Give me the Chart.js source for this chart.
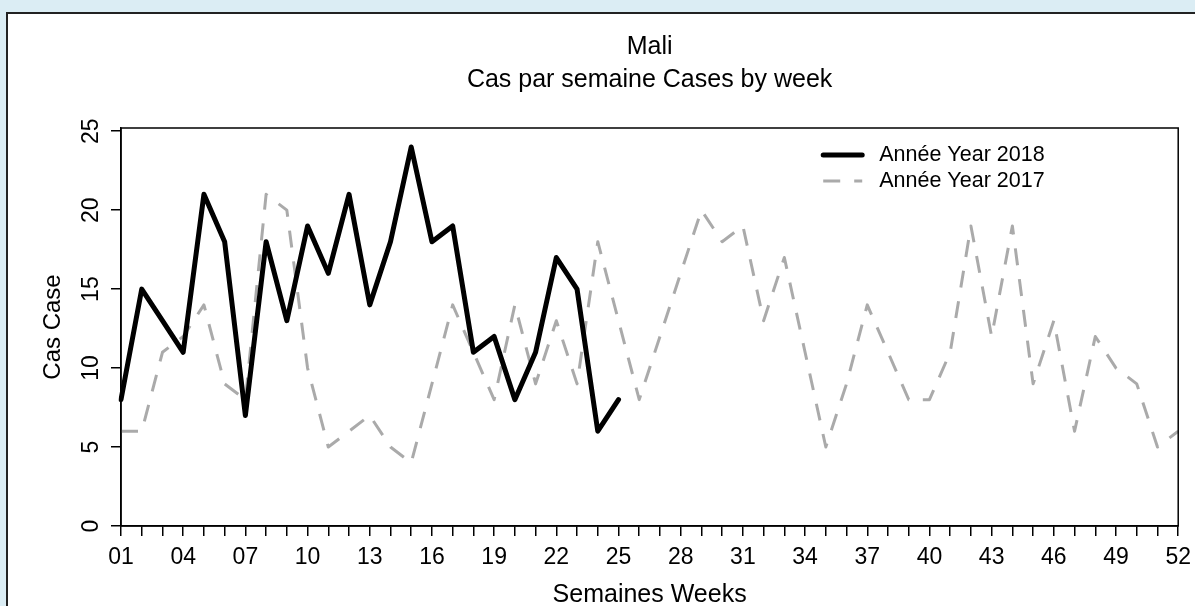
<!DOCTYPE html>
<html>
<head>
<meta charset="utf-8">
<title>Mali - Cas par semaine</title>
<script src="https://cdn.jsdelivr.net/npm/chart.js@4.4.0/dist/chart.umd.min.js"></script>
<style>
  html, body { margin: 0; padding: 0; background: #dbedf4; overflow: hidden; }
  #panel { position: absolute; left: 6px; top: 12px; width: 1200px; height: 610px; background: #fff; border-left: 2px solid #222; border-top: 2px solid #222; }
  #wrap { position: absolute; left: 0; top: 0; width: 1191px; height: 600px; }
</style>
</head>
<body>
<div id="panel"><div id="wrap"><canvas id="lineChart"></canvas></div></div>
<script>
/* weeks of the year, all of them get a tick mark */
const weeks = ['01', '02', '03', '04', '05', '06', '07', '08', '09', '10',
  '11', '12', '13', '14', '15', '16', '17', '18', '19', '20',
  '21', '22', '23', '24', '25', '26', '27', '28', '29', '30',
  '31', '32', '33', '34', '35', '36', '37', '38', '39', '40',
  '41', '42', '43', '44', '45', '46', '47', '48', '49', '50',
  '51', '52'];
// only every third week gets a label
const shownWeeks = ['01', '04', '07', '10', '13', '16', '19', '22', '25',
  '28', '31', '34', '37', '40', '43', '46', '49', '52'];

const cases2018 = [8, 15, 13, 11, 21, 18, 7, 18, 13, 19, 16, 21, 14, 18, 24,
  18, 19, 11, 12, 8, 11, 17, 15, 6, 8];
const cases2017 = [6, 6, 11, 12, 14, 9, 8, 21, 20, 10, 5, 6, 7, 5, 4,
  9, 14, 11, 8, 14, 9, 13, 9, 18, 13, 8, 12, 16, 20, 18,
  19, 13, 17, 11, 5, 9, 14, 11, 8, 8, 11, 19, 12, 19, 9,
  13, 6, 12, 10, 9, 5, 6];

const yTicks = [0, 5, 10, 15, 20, 25];
const titleLines = ['Mali', 'Cas par semaine Cases by week'];
const seriesLabels = ['Année Year 2018', 'Année Year 2017'];

const FONT = "'Liberation Sans', Arial, Helvetica, sans-serif";
Chart.defaults.color = '#000';
Chart.defaults.font.family = FONT;

// box round the plot region
const plotBox = {
  id: 'plotBox',
  afterDraw(chart) {
    const { ctx, chartArea: a } = chart;
    ctx.save();
    ctx.strokeStyle = '#000';
    ctx.lineWidth = 1.5;
    ctx.strokeRect(a.left, a.top, a.right - a.left, a.bottom - a.top);
    ctx.restore();
  }
};

// legend with line samples, inside the plot at top right
const lineLegend = {
  id: 'lineLegend',
  afterDraw(chart) {
    const { ctx, chartArea: a } = chart;
    const x0 = a.right - 355;
    ctx.save();
    chart.data.datasets.forEach((ds, i) => {
      const y = a.top + 27 + i * 26;
      ctx.beginPath();
      ctx.setLineDash(ds.borderDash || []);
      ctx.lineCap = ds.borderCapStyle || 'butt';
      ctx.strokeStyle = ds.borderColor;
      ctx.lineWidth = ds.borderWidth;
      ctx.moveTo(x0, y);
      ctx.lineTo(x0 + 39, y);
      ctx.stroke();
      ctx.setLineDash([]);
      ctx.fillStyle = '#000';
      ctx.font = '21.5px ' + FONT;
      ctx.textAlign = 'left';
      ctx.textBaseline = 'middle';
      ctx.fillText(ds.label, x0 + 56, y);
    });
    ctx.restore();
  }
};

let ctxLineChart = document.getElementById('lineChart').getContext('2d');
let lineChart = new Chart(ctxLineChart, {
  type: 'line',
  data: {
    labels: weeks,
    datasets: [
      {
        label: seriesLabels[0],
        data: cases2018,
        borderColor: '#000',
        borderWidth: 5,
        borderJoinStyle: 'round',
        borderCapStyle: 'round',
        pointRadius: 0,
        fill: false,
        tension: 0
      },
      {
        label: seriesLabels[1],
        data: cases2017,
        borderColor: '#aaaaaa',
        borderWidth: 3,
        borderDash: [17, 14],
        borderJoinStyle: 'round',
        borderCapStyle: 'butt',
        pointRadius: 0,
        fill: false,
        tension: 0
      }
    ]
  },
  options: {
    responsive: true,
    maintainAspectRatio: false,
    animation: false,
    layout: { padding: 0 },
    plugins: {
      legend: { display: false },
      tooltip: { enabled: false },
      title: {
        display: true,
        fullSize: false, // centre over the plot region, not the whole canvas
        text: titleLines,
        color: '#000',
        font: { size: 25, weight: 'normal', lineHeight: 1.32 },
        padding: { top: 17, bottom: 31 }
      }
    },
    scales: {
      x: {
        type: 'category',
        offset: false,
        afterFit(scale) { scale.height = 88; },
        grid: { display: true, drawOnChartArea: false, drawTicks: true, tickLength: 10, color: '#000', lineWidth: 1.5 },
        border: { display: true, color: '#000', width: 1.5 },
        ticks: {
          autoSkip: false,
          maxRotation: 0,
          minRotation: 0,
          padding: 8,
          font: { size: 23 },
          callback(value, index) {
            const w = weeks[index];
            return shownWeeks.includes(w) ? w : '';
          }
        },
        title: {
          display: true,
          text: 'Semaines Weeks',
          font: { size: 25 },
          padding: { top: 0, bottom: 4 }
        }
      },
      y: {
        min: 0,
        max: 25.2,
        afterFit(scale) { scale.width = 113; },
        afterBuildTicks(scale) { scale.ticks = yTicks.map(v => ({ value: v })); },
        grid: { display: true, drawOnChartArea: false, drawTicks: true, tickLength: 10, color: '#000', lineWidth: 1.5 },
        border: { display: true, color: '#000', width: 1.5 },
        ticks: {
          minRotation: 90,
          maxRotation: 90,
          crossAlign: 'center',
          padding: 7,
          font: { size: 23 }
        },
        title: {
          display: true,
          text: 'Cas Case',
          font: { size: 24 },
          padding: { top: 31, bottom: 0 }
        }
      }
    }
  },
  plugins: [plotBox, lineLegend]
});
</script>
</body>
</html>
